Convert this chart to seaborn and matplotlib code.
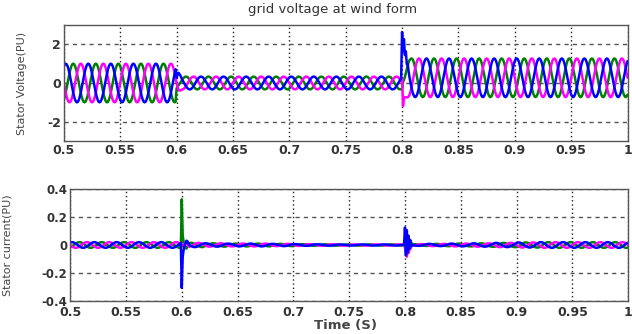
import numpy as np
import pandas as pd
import matplotlib
matplotlib.use("Agg")
import matplotlib.pyplot as plt
import seaborn as sns

# one 50 Hz cycle sampled 24 times (per-unit shape)
cycle_shape = [1.0, 0.97, 0.87, 0.71, 0.5, 0.26, 0.0, -0.26, -0.5, -0.71, -0.87, -0.97,
               -1.0, -0.97, -0.87, -0.71, -0.5, -0.26, 0.0, 0.26, 0.5, 0.71, 0.87, 0.97]
cycle_time = 0.02
t_start = 0.5

# per-cycle amplitude / offset (25 cycles, 0.5 .. 1.0 s)
volt_amp = [1.0, 1.0, 1.0, 1.0, 1.0,
            0.33, 0.33, 0.33, 0.33, 0.33, 0.33, 0.33, 0.33, 0.33, 0.33,
            1.0, 1.0, 1.0, 1.0, 1.0, 1.0, 1.0, 1.0, 1.0, 1.0]
volt_off = [0.0, 0.0, 0.0, 0.0, 0.0,
            0.0, 0.0, 0.0, 0.0, 0.0, 0.0, 0.0, 0.0, 0.0, 0.0,
            0.27, 0.27, 0.27, 0.27, 0.27, 0.27, 0.27, 0.27, 0.27, 0.27]
curr_amp = [0.02, 0.02, 0.02, 0.02, 0.02,
            0.015, 0.012, 0.01, 0.01, 0.008, 0.006, 0.005, 0.004, 0.004, 0.004,
            0.006, 0.008, 0.01, 0.012, 0.015, 0.018, 0.02, 0.02, 0.02, 0.02]
curr_off = [0.0] * 25

# phase shift of each phase in samples (blue leads, green -120, magenta -240)
phases = ["green", "magenta", "blue"]
phase_shift = {"green": 10, "magenta": 18, "blue": 2}
phase_color = {"green": "#008000", "magenta": "#ff00ff", "blue": "#0000ff"}

# transients (added to samples starting at the fault instants)
volt_events = {
    0.6: {"green": [0.0, 0.05, 0.05, 0.03, 0.02],
          "magenta": [0.0, -0.1, -0.2, -0.15, -0.1, -0.05],
          "blue": [0.0, 0.1, 0.2, 0.15, 0.1, 0.05]},
    0.8: {"green": [0.3, 0.5, 0.4, 0.3, 0.25, 0.2, 0.15, 0.1, 0.05],
          "magenta": [0.0, -1.2, -0.5, -0.3, -0.15, -0.05],
          "blue": [1.5, 0.4, 1.0, 0.2, 0.5, 0.0, 0.2, 0.05]},
}
curr_events = {
    0.6: {"green": [0.34, 0.08, 0.03, 0.0, -0.02, -0.03, -0.02, -0.01],
          "magenta": [0.0, 0.0, 0.01, 0.02, 0.03, 0.03, 0.02, 0.01],
          "blue": [-0.32, -0.1, -0.05, -0.02, 0.0, 0.02, 0.02, 0.01]},
    0.8: {"green": [0.0, 0.03, 0.05, 0.07, 0.04, 0.03, 0.02, 0.01],
          "magenta": [-0.02, -0.05, -0.08, -0.04, -0.05, -0.02, -0.02],
          "blue": [0.12, -0.08, 0.1, -0.06, 0.06, -0.03, 0.03, -0.01]},
}

x_ticks = [0.5, 0.55, 0.6, 0.65, 0.7, 0.75, 0.8, 0.85, 0.9, 0.95, 1.0]
x_labels = ["0.5", "0.55", "0.6", "0.65", "0.7", "0.75", "0.8", "0.85", "0.9", "0.95", "1"]
volt_ticks = [-2, 0, 2]
volt_labels = ["-2", "0", "2"]
curr_ticks = [-0.4, -0.2, 0, 0.2, 0.4]
curr_labels = ["-0.4", "-0.2", "0", "0.2", "0.4"]

n_per = len(cycle_shape)
dt = cycle_time / n_per
n = n_per * len(volt_amp) + 1
time = t_start + np.arange(n) * dt


def build(amps, offs, events):
    rows = []
    for ph in phases:
        base = np.roll(cycle_shape, phase_shift[ph])
        y = np.concatenate([a * base + o for a, o in zip(amps, offs)])
        y = np.append(y, amps[-1] * base[0] + offs[-1])
        for t0, adds in events.items():
            i0 = int(round((t0 - t_start) / dt))
            add = adds[ph]
            y[i0:i0 + len(add)] += add
        rows.append(pd.DataFrame({"time": time, "value": y, "phase": ph}))
    return pd.concat(rows, ignore_index=True)


df_volt = build(volt_amp, volt_off, volt_events)
df_curr = build(curr_amp, curr_off, curr_events)

sns.set_style("white")
plt.rcParams["font.family"] = ["DejaVu Sans"]
plt.rcParams["axes.unicode_minus"] = False

fig = plt.figure(figsize=(6.32, 3.34), dpi=100)
ax1 = fig.add_axes([0.101, 0.578, 0.892, 0.347])
ax2 = fig.add_axes([0.111, 0.099, 0.883, 0.335])

for ax, d, yt, yl in [(ax1, df_volt, volt_ticks, volt_labels),
                      (ax2, df_curr, curr_ticks, curr_labels)]:
    sns.lineplot(data=d, x="time", y="value", hue="phase", palette=phase_color,
                 hue_order=phases, estimator=None, sort=False, linewidth=1.8,
                 legend=False, ax=ax)
    ax.set_xlim(0.5, 1.0)
    ax.set_xticks(x_ticks)
    ax.set_xticklabels(x_labels)
    ax.set_yticks(yt)
    ax.set_yticklabels(yl)
    ax.xaxis.grid(True, linestyle=(0, (1, 2)), color="#222222", linewidth=1.0)
    ax.yaxis.grid(True, linestyle=(0, (3, 3)), color="#555555", linewidth=1.0)
    ax.set_axisbelow(True)
    ax.tick_params(direction="in", length=3, color="#444444", labelsize=9,
                   labelcolor="#333333", pad=2)
    for lab in ax.get_xticklabels() + ax.get_yticklabels():
        lab.set_fontweight("bold")
    for s in ax.spines.values():
        s.set_color("#555555")
        s.set_linewidth(1.0)
    ax.set_xlabel("")

ax1.set_ylim(-3, 3)
ax1.set_ylabel("Stator Voltage(PU)", fontsize=8, color="#444444")
ax1.yaxis.set_label_coords(-0.065, 0.5)

ax2.set_ylim(-0.4, 0.4)
ax2.tick_params(axis="x", pad=4)
ax2.tick_params(axis="y", labelsize=8.5)
ax2.set_ylabel("Stator current(PU)", fontsize=8, color="#444444")
ax2.yaxis.set_label_coords(-0.104, 0.5)

fig.text(333 / 632, 1 - 10 / 334, "grid voltage at wind form", ha="center", va="center",
         fontsize=9.5, color="#333333")
fig.text(345 / 632, 1 - 326 / 334, "Time (S)", ha="center", va="center",
         fontsize=9.5, fontweight="bold", color="#444444")

fig.savefig("out.png", dpi=100)
